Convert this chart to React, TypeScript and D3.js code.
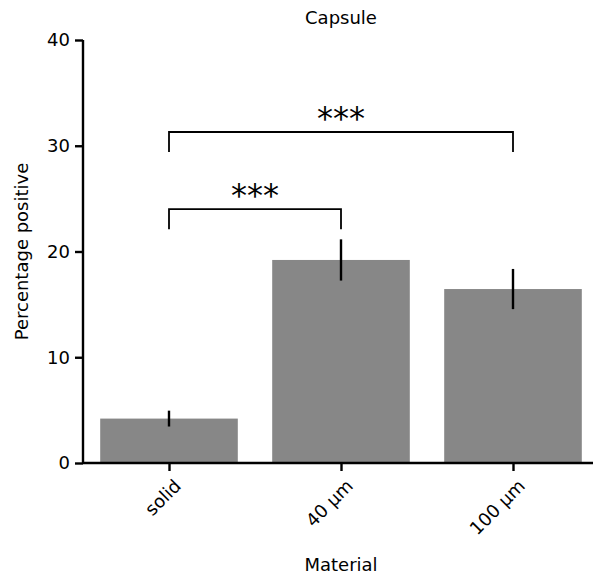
import React, { useRef, useEffect } from 'react';
import * as d3 from 'd3';

const categories = ["solid", "40 µm", "100 µm"];
const means = [4.2, 19.2, 16.45];
const errors = [0.75, 1.95, 1.9];
const yTicks = [0, 10, 20, 30, 40];

// significance brackets: [from index, to index, bracket height, label]
const bracketFrom = [0, 0];
const bracketTo = [1, 2];
const bracketY = [24.0, 31.3];
const bracketLabels = ["***", "***"];

const W = 593;
const H = 576;
const FONT = "DejaVu Sans, sans-serif";

export default function App() {
    const ref = useRef<SVGSVGElement>(null);

    useEffect(() => {
        if (!ref.current) return;
        const svg = d3.select(ref.current);
        svg.selectAll("*").remove();

        const left = 83, top = 40, bottom = 463;
        const x = d3.scaleLinear().domain([-0.5, 2.5]).range([left, left + 172 * 3]);
        const y = d3.scaleLinear().domain([0, 40]).range([bottom, top]);
        const barW = 0.8;

        // bars
        svg.selectAll("rect.bar")
            .data(means)
            .enter()
            .append("rect")
            .attr("class", "bar")
            .attr("x", (d, i) => x(i - barW / 2))
            .attr("y", d => y(d))
            .attr("width", x(barW) - x(0))
            .attr("height", d => y(0) - y(d))
            .attr("fill", "#878787");

        // error bars
        svg.selectAll("line.err")
            .data(means)
            .enter()
            .append("line")
            .attr("x1", (d, i) => x(i)).attr("x2", (d, i) => x(i))
            .attr("y1", (d, i) => y(d - errors[i]))
            .attr("y2", (d, i) => y(d + errors[i]))
            .attr("stroke", "black").attr("stroke-width", 2.4);

        // y axis
        const yAxis = svg.append("g")
            .attr("transform", `translate(${left},0)`)
            .call(d3.axisLeft(y).tickValues(yTicks).tickSize(8).tickPadding(5).tickFormat(d3.format("d")));
        yAxis.select(".domain").attr("stroke-width", 2.4).attr("d", `M0,${top}V${bottom}`);
        yAxis.selectAll(".tick line").attr("stroke-width", 2.4);
        yAxis.selectAll("text").style("font-family", FONT).style("font-size", "18px").attr("fill", "#000");

        // x axis
        const xAxis = svg.append("g")
            .attr("transform", `translate(0,${bottom})`)
            .call(d3.axisBottom(x).tickValues([0, 1, 2]).tickSize(8).tickFormat(() => ""));
        xAxis.select(".domain").attr("stroke-width", 2.4).attr("d", `M${left},0H${x(2.5)}`);
        xAxis.selectAll(".tick line").attr("stroke-width", 2.4);

        svg.selectAll("text.xlab")
            .data(categories)
            .enter()
            .append("text")
            .attr("transform", (d, i) => `translate(${x(i) + 4},${bottom + 15}) rotate(-45)`)
            .attr("text-anchor", "end")
            .attr("dy", "0.72em")
            .style("font-family", FONT).style("font-size", "18px")
            .text(d => d);

        // brackets
        bracketY.forEach((by, k) => {
            const x1 = x(bracketFrom[k]), x2 = x(bracketTo[k]);
            const yTop = y(by), yLow = y(by - 1.9);
            svg.append("path")
                .attr("d", `M${x1},${yLow}V${yTop}H${x2}V${yLow}`)
                .attr("fill", "none").attr("stroke", "black").attr("stroke-width", 1.8);
            svg.append("text")
                .attr("x", (x1 + x2) / 2).attr("y", yTop - 3)
                .attr("text-anchor", "middle")
                .style("font-family", FONT).style("font-size", "32px")
                .text(bracketLabels[k]);
        });

        // labels
        svg.append("text")
            .attr("x", x(1)).attr("y", 24)
            .attr("text-anchor", "middle")
            .style("font-family", FONT).style("font-size", "18px")
            .text("Capsule");
        svg.append("text")
            .attr("x", x(1)).attr("y", 571)
            .attr("text-anchor", "middle")
            .style("font-family", FONT).style("font-size", "18px")
            .text("Material");
        svg.append("text")
            .attr("transform", `translate(28,${(top + bottom) / 2}) rotate(-90)`)
            .attr("text-anchor", "middle")
            .style("font-family", FONT).style("font-size", "18px")
            .text("Percentage positive");
    }, []);

    return (
        <svg ref={ref} width={W} height={H}
            style={{ position: "absolute", left: 0, top: 0, background: "white" }} />
    );
}
